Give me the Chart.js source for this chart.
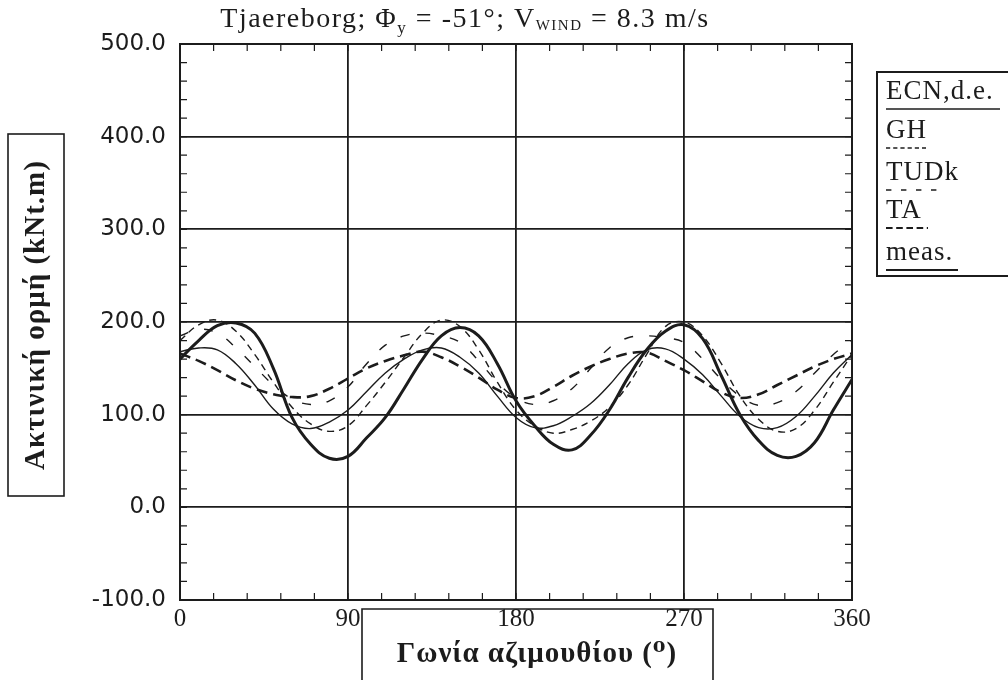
<!DOCTYPE html>
<html>
<head>
<meta charset="utf-8">
<script src="https://cdn.jsdelivr.net/npm/chart.js@4.4.1/dist/chart.umd.min.js"></script>
<style>
  html, body { margin: 0; padding: 0; background: #fff; }
  canvas { display: block; }
</style>
</head>
<body>
<canvas id="loadChart" width="1008" height="680"></canvas>
<script>
// azimuth angles (deg) and the curves
const angles = [0, 10, 20, 30, 40, 50, 60, 70, 80, 90, 100, 110, 120, 130, 140, 150, 160, 170, 180,
                190, 200, 210, 220, 230, 240, 250, 260, 270, 280, 290, 300, 310, 320, 330, 340, 350, 360];
const ecnValues  = [168, 172, 170, 155, 132, 106, 90, 85, 92, 105, 125, 145, 160, 170, 172, 162, 145, 120, 97,
                    86, 88, 98, 112, 132, 155, 170, 171, 160, 143, 120, 98, 86, 86, 98, 120, 145, 165];
const ghValues   = [180, 197, 202, 190, 165, 135, 108, 90, 82, 88, 110, 135, 162, 188, 202, 195, 170, 135, 105,
                    88, 80, 84, 93, 108, 132, 165, 195, 200, 185, 155, 120, 95, 82, 85, 105, 135, 165];
const tudkValues = [185, 192, 188, 172, 152, 132, 117, 111, 115, 130, 155, 175, 185, 188, 185, 178, 158, 135, 118,
                    111, 115, 128, 150, 172, 183, 185, 183, 178, 160, 138, 120, 110, 113, 125, 145, 165, 180];
const taValues   = [166, 158, 148, 137, 128, 122, 119, 120, 128, 139, 150, 158, 164, 168, 162, 152, 140, 127, 118,
                    120, 130, 142, 152, 160, 166, 167, 158, 148, 136, 124, 118, 122, 132, 142, 152, 160, 166];
const measValues = [160, 180, 196, 199, 188, 150, 97, 68, 53, 55, 75, 97, 128, 160, 185, 194, 185, 155, 115,
                    88, 68, 62, 78, 105, 140, 170, 190, 197, 182, 142, 100, 72, 56, 55, 70, 105, 138];
const seriesNames = ["ECN,d.e.", "GH", "TUDk", "TA", "meas."];
const yTickValues = [-100, 0, 100, 200, 300, 400, 500];
const xTickValues = [0, 90, 180, 270, 360];
const titleParts = ["Tjaereborg; Φ", "y", " = -51°; V", "WIND", " = 8.3 m/s"];
const yAxisTitle = "Ακτινική ορμή (kNt.m)";
const xAxisTitle = "Γωνία αζιμουθίου (⁰)";

const INK = "#1c1c1c";
const SERIF = "'Liberation Serif', 'DejaVu Serif', serif";

const lineStyles = [
    { width: 1.4, dash: [] },        // ECN,d.e.
    { width: 1.4, dash: [7, 5] },    // GH
    { width: 1.4, dash: [9, 16] },   // TUDk
    { width: 2.6, dash: [11, 6] },   // TA
    { width: 3.0, dash: [] }         // meas.
];
const allSeries = [ecnValues, ghValues, tudkValues, taValues, measValues];

const datasets = allSeries.map((vals, i) => ({
    label: seriesNames[i],
    data: angles.map((a, k) => ({ x: a, y: vals[k] })),
    borderColor: INK,
    borderWidth: lineStyles[i].width,
    borderDash: lineStyles[i].dash,
    pointRadius: 0,
    tension: 0.4,
    fill: false
}));

// frame, minor ticks, title, axis title boxes and the legend box
const decorPlugin = {
    id: "decor",
    afterDraw(chart) {
        const { ctx, chartArea: a, scales: { x, y } } = chart;
        ctx.save();
        ctx.strokeStyle = INK;
        ctx.fillStyle = INK;

        // minor ticks inside the frame
        ctx.lineWidth = 1.2;
        ctx.beginPath();
        for (let v = -100; v <= 500; v += 20) {
            const py = y.getPixelForValue(v);
            ctx.moveTo(a.left, py); ctx.lineTo(a.left + 7, py);
            ctx.moveTo(a.right, py); ctx.lineTo(a.right - 7, py);
        }
        for (let v = 0; v <= 360; v += 18) {
            const px = x.getPixelForValue(v);
            ctx.moveTo(px, a.bottom); ctx.lineTo(px, a.bottom - 7);
            ctx.moveTo(px, a.top); ctx.lineTo(px, a.top + 7);
        }
        ctx.stroke();

        // frame
        ctx.lineWidth = 2;
        ctx.strokeRect(a.left, a.top, a.right - a.left, a.bottom - a.top);

        // title with subscripts
        const sizes = [28, 17, 28, 15, 28];
        const drops = [0, 6, 0, 3, 0];
        ctx.letterSpacing = "1.5px";
        let total = 0;
        titleParts.forEach((t, i) => {
            ctx.font = sizes[i] + "px " + SERIF;
            total += ctx.measureText(t).width;
        });
        let tx = 465 - total / 2;
        ctx.textBaseline = "alphabetic";
        ctx.textAlign = "left";
        titleParts.forEach((t, i) => {
            ctx.font = sizes[i] + "px " + SERIF;
            ctx.fillText(t, tx, 27 + drops[i]);
            tx += ctx.measureText(t).width;
        });

        // y axis title in a box
        ctx.lineWidth = 1.6;
        ctx.strokeRect(8, 134, 56, 362);
        ctx.save();
        ctx.translate(37, 315);
        ctx.rotate(-Math.PI / 2);
        ctx.letterSpacing = "1px";
        ctx.font = "bold 29px " + SERIF;
        ctx.textAlign = "center";
        ctx.textBaseline = "middle";
        ctx.fillText(yAxisTitle, 0, 0);
        ctx.restore();

        // x axis title in a box
        ctx.beginPath();
        ctx.moveTo(362, 690); ctx.lineTo(362, 609); ctx.lineTo(713, 609); ctx.lineTo(713, 690);
        ctx.stroke();
        ctx.letterSpacing = "1px";
        ctx.font = "bold 29px " + SERIF;
        ctx.textAlign = "center";
        ctx.textBaseline = "middle";
        ctx.fillText(xAxisTitle, 537, 655);

        // legend box
        ctx.lineWidth = 2;
        ctx.strokeRect(877, 72, 140, 204);
        const rowY = [92, 131, 173, 211, 253];
        const lineLen = [114, 40, 60, 42, 72];
        ctx.font = "27px " + SERIF;
        ctx.letterSpacing = "1px";
        ctx.textAlign = "left";
        chart.data.datasets.forEach((ds, i) => {
            ctx.fillText(ds.label, 886, rowY[i]);
            ctx.beginPath();
            ctx.lineWidth = Math.min(ds.borderWidth, 2.2);
            ctx.setLineDash(ds.borderDash.length ? ds.borderDash.map(d => d * 0.6) : []);
            ctx.moveTo(886, rowY[i] + 17);
            ctx.lineTo(886 + lineLen[i], rowY[i] + 17);
            ctx.stroke();
            ctx.setLineDash([]);
        });
        ctx.restore();
    }
};

new Chart(document.getElementById("loadChart"), {
    type: "line",
    data: { datasets },
    plugins: [decorPlugin],
    options: {
        responsive: false,
        animation: false,
        layout: { padding: { left: 0, top: 44, right: 156, bottom: 0 } },
        plugins: { legend: { display: false }, tooltip: { enabled: false } },
        scales: {
            x: {
                type: "linear",
                min: 0,
                max: 360,
                afterFit: scale => { scale.height = 80; },
                afterBuildTicks: scale => { scale.ticks = xTickValues.map(v => ({ value: v })); },
                grid: { color: INK, lineWidth: 1.8, drawTicks: false },
                border: { display: true, color: INK, width: 2 },
                ticks: {
                    color: INK,
                    padding: 4,
                    maxRotation: 0,
                    font: { family: SERIF, size: 25 },
                    callback: v => String(v)
                }
            },
            y: {
                min: -100,
                max: 500,
                afterFit: scale => { scale.width = 180; },
                afterBuildTicks: scale => { scale.ticks = yTickValues.map(v => ({ value: v })); },
                grid: { color: INK, lineWidth: 1.8, drawTicks: false },
                border: { display: true, color: INK, width: 2 },
                ticks: {
                    color: INK,
                    padding: 14,
                    font: { family: "'DejaVu Sans', sans-serif", size: 23 },
                    callback: v => Number(v).toFixed(1)
                }
            }
        }
    }
});
</script>
</body>
</html>
